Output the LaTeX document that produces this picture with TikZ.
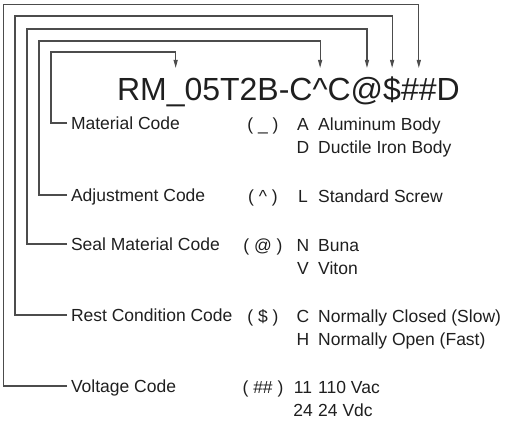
\documentclass[tikz,border=0pt]{standalone}
\usepackage{fontspec}
\setmainfont{Liberation Sans}
\usetikzlibrary{arrows.meta, positioning}
\definecolor{linegray}{gray}{0.3}
\definecolor{inkgray}{gray}{0.12}

\begin{document}
\begin{tikzpicture}[
  x=1pt, y=-1pt,
  every node/.style={text=inkgray},
  part/.style={inner sep=0pt, outer xsep=0pt, outer ysep=9pt, text height=23pt, text depth=0pt, font=\fontsize{32}{32}\selectfont},
  fieldname/.style={inner sep=0pt, outer xsep=4pt, text height=12.5pt, text depth=0pt, anchor=west, font=\fontsize{17.5}{23}\selectfont},
  codebox/.style={inner sep=0pt, anchor=base, font=\fontsize{17.5}{23}\selectfont},
  optbox/.style={inner sep=0pt, anchor=base, font=\fontsize{17.5}{23}\selectfont},
  descbox/.style={inner sep=0pt, anchor=base west, font=\fontsize{17.5}{23}\selectfont},
  conn/.style={draw=linegray, line width=1.1pt, -{Triangle[length=8pt,width=4pt]}}
]
  \useasboundingbox (0,0) rectangle (508,425);

  % part number
  \node[part, anchor=base west] (rm) at (117,100) {RM};
  \node[part, right=0pt of rm] (us) {\_};
  \node[part, right=0pt of us] (num) {05T2B-C};
  \node[part, right=0pt of num] (caret) {\textasciicircum};
  \node[part, right=0pt of caret] (c2) {C};
  \node[part, right=0pt of c2] (at) {@};
  \node[part, right=0pt of at] (dol) {\$};
  \node[part, right=0pt of dol] (hash) {\#\#};
  \node[part, right=0pt of hash] (d) {D};

  % field names
  \node[fieldname] (matl) at (67,123) {Material Code};
  \node[fieldname] (adj) at (67,195) {Adjustment Code};
  \node[fieldname] (seal) at (67,244) {Seal Material Code};
  \node[fieldname] (rest) at (67,315) {Rest Condition Code};
  \node[fieldname] (volt) at (67,386) {Voltage Code};

  % codes
  \node[codebox] (matlcode) at (263,130) {( \_ )};
  \node[codebox] (adjcode) at (263,202) {( \textasciicircum\ )};
  \node[codebox] (sealcode) at (263,251) {( @ )};
  \node[codebox] (restcode) at (263,322) {( \$ )};
  \node[codebox] (voltcode) at (263,393) {( \#\# )};

  % options
  \node[optbox] (optA) at (303,130) {A};
  \node[descbox] (descA) at (318,130) {Aluminum Body};
  \node[optbox] (optD) at (303,153) {D};
  \node[descbox] (descD) at (318,153) {Ductile Iron Body};
  \node[optbox] (optL) at (303,202) {L};
  \node[descbox] (descL) at (318,202) {Standard Screw};
  \node[optbox] (optN) at (303,251) {N};
  \node[descbox] (descN) at (318,251) {Buna};
  \node[optbox] (optV) at (303,274) {V};
  \node[descbox] (descV) at (318,274) {Viton};
  \node[optbox] (optC) at (303,322) {C};
  \node[descbox] (descC) at (318,322) {Normally Closed (Slow)};
  \node[optbox] (optH) at (303,345) {H};
  \node[descbox] (descH) at (318,345) {Normally Open (Fast)};
  \node[optbox] (opt11) at (303,393) {11};
  \node[descbox] (desc11) at (318,393) {110 Vac};
  \node[optbox] (opt24) at (303,416) {24};
  \node[descbox] (desc24) at (318,416) {24 Vdc};

  % leader lines
  \draw[conn] (matl.west) -| (51,52) -| (us.north);
  \draw[conn] (adj.west) -| (39,41) -| (caret.north);
  \draw[conn] (seal.west) -| (27,29) -| (at.north);
  \draw[conn] (rest.west) -| (15,16) -| (dol.north);
  \draw[conn] (volt.west) -| (3.5,4.5) -| (hash.north);
\end{tikzpicture}
\end{document}
